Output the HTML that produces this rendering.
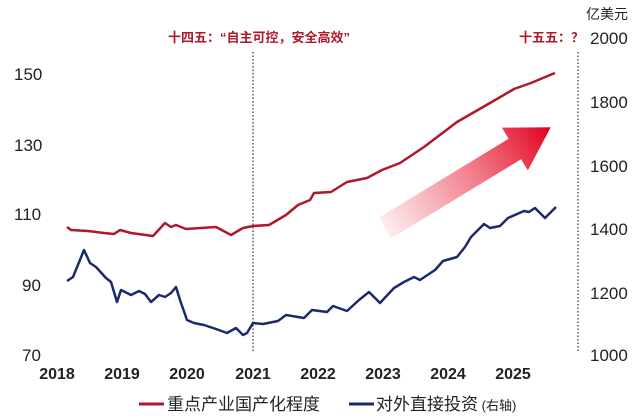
<!DOCTYPE html>
<html><head><meta charset="utf-8"><style>
body{margin:0;background:#fff}
svg{display:block;font-family:"Liberation Sans","Noto Sans CJK SC",sans-serif}
</style></head><body>
<svg width="640" height="418" viewBox="0 0 640 418">
<defs>
<linearGradient id="g" x1="0" y1="0" x2="1" y2="0">
<stop offset="0" stop-color="#e8233a" stop-opacity="0.08"/>
<stop offset="0.5" stop-color="#e8233a" stop-opacity="0.55"/>
<stop offset="1" stop-color="#e0001b"/>
</linearGradient>
</defs>
<g font-size="17" fill="#222">
<text x="14" y="80">150</text>
<text x="14" y="151">130</text>
<text x="14" y="220">110</text>
<text x="22" y="291">90</text>
<text x="22" y="361">70</text>
<text x="590" y="44">2000</text>
<text x="590" y="108">1800</text>
<text x="590" y="172">1600</text>
<text x="590" y="235">1400</text>
<text x="590" y="299">1200</text>
<text x="590" y="361">1000</text>
<text x="586" y="19" font-size="14">亿美元</text>
</g>
<g font-size="16" font-weight="600" fill="#222" text-anchor="middle">
<text x="57" y="379">2018</text><text x="122" y="379">2019</text><text x="187" y="379">2020</text><text x="253" y="379">2021</text><text x="318" y="379">2022</text><text x="383" y="379">2023</text><text x="448" y="379">2024</text><text x="513" y="379">2025</text>
</g>
<text x="259" y="42" font-size="13" font-weight="bold" fill="#b0182a" text-anchor="middle">十四五：“自主可控，安全高效”</text>
<text x="584" y="42" font-size="13" font-weight="bold" fill="#b0182a" text-anchor="end">十五五：？</text>
<line x1="253" y1="52" x2="253" y2="352" stroke="#333" stroke-width="1.2" stroke-dasharray="1.5,2"/>
<line x1="578" y1="52" x2="578" y2="352" stroke="#333" stroke-width="1.2" stroke-dasharray="1.5,2"/>
<g transform="translate(385,228) rotate(-31.3)">
<polygon points="0,-12 152,-12 152,-25 194,0 152,25 152,12 0,12" fill="url(#g)"/>
</g>
<polyline fill="none" stroke="#b0182a" stroke-width="2.5" stroke-linejoin="round" points="67,227 71,230 88,231 104,233 114,234 120,230 131,233 153,236 165,223 171,227 176,225 186,229 216,227 231,235 243,228 253,226 269,225 286,215 298,205 310,200 314,193 331,192 347,182 367,178 382,170 400,163 424,147 457,122 490,103 514,89 531,83 550,75 555,73"/>
<polyline fill="none" stroke="#1c2a6b" stroke-width="2.5" stroke-linejoin="round" points="67,281 73,277 84,250 90,263 96,267 106,278 111,282 117,302 121,290 131,295 139,291 145,294 151,302 159,295 165,297 171,293 176,287 180,300 187,320 194,323 204,325 216,329 227,333 236,328 243,335 247,333 253,323 263,324 278,321 286,315 304,318 312,310 327,312 333,306 347,311 359,300 369,292 380,303 394,288 404,282 414,277 420,280 435,270 443,261 457,257 465,247 471,237 484,224 490,228 500,226 508,218 524,211 529,212 535,208 545,218 556,207"/>
<line x1="139" y1="404" x2="164" y2="404" stroke="#b0182a" stroke-width="3"/>
<text x="167" y="410" font-size="17" fill="#222">重点产业国产化程度</text>
<line x1="349" y1="404" x2="374" y2="404" stroke="#1c2a6b" stroke-width="3"/>
<text x="376" y="410" font-size="17" fill="#222">对外直接投资<tspan font-size="13"> (右轴)</tspan></text>
</svg>
</body></html>
